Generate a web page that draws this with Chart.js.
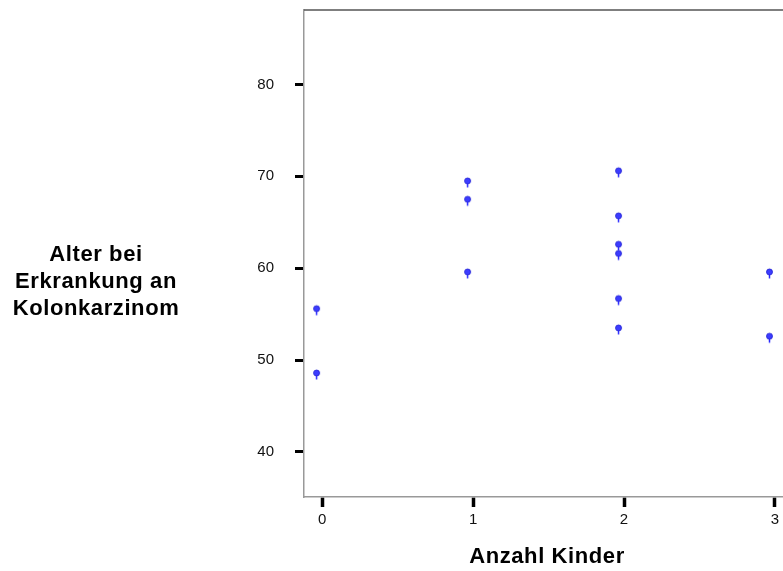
<!DOCTYPE html>
<html>
<head>
<meta charset="utf-8">
<script src="https://cdn.jsdelivr.net/npm/chart.js@4/dist/chart.umd.min.js"></script>
<style>
  body { margin: 0; background: #fff; }
  canvas { display: block; }
</style>
</head>
<body>
<canvas id="myChart" width="783" height="571"></canvas>
<script>
// data
const kinder = [0, 0, 1, 1, 1, 2, 2, 2, 2, 2, 2, 3, 3];
const alter = [55.6, 48.6, 69.5, 67.5, 59.6, 70.6, 65.7, 62.6, 61.6, 56.7, 53.5, 59.6, 52.6];
const xTicks = [0, 1, 2, 3];
const yTicks = [40, 50, 60, 70, 80];
const xTitle = "Anzahl Kinder";
const yTitle = ["Alter bei", "Erkrankung an", "Kolonkarzinom"];

// marker: small blue circle with a stem, drawn a bit left of the point like the original
function makeMarker() {
  let c = document.createElement("canvas");
  c.width = 20;
  c.height = 20;
  let g = c.getContext("2d");
  g.strokeStyle = "rgb(40,40,255)";
  g.lineWidth = 1.5;
  g.beginPath();
  g.moveTo(4.5, 10);
  g.lineTo(4.5, 16.5);
  g.stroke();
  g.fillStyle = "rgb(60,60,255)";
  g.beginPath();
  g.arc(4.5, 10, 3, 0, Math.PI * 2);
  g.fill();
  g.strokeStyle = "rgb(30,30,210)";
  g.lineWidth = 0.8;
  g.stroke();
  return c;
}

// draws the horizontal y title, the x title and the top frame line
const titles = {
  id: "titles",
  afterDraw(chart) {
    const ctx = chart.ctx;
    const area = chart.chartArea;
    ctx.save();
    ctx.strokeStyle = "#555";
    ctx.lineWidth = 1.5;
    ctx.beginPath();
    ctx.moveTo(area.left, area.top);
    ctx.lineTo(area.right, area.top);
    ctx.stroke();

    ctx.fillStyle = "#000";
    ctx.font = "bold 22px 'Liberation Sans', Arial, sans-serif";
    ctx.letterSpacing = "0.6px";
    ctx.textAlign = "center";
    ctx.textBaseline = "alphabetic";
    let base = [261, 288, 315];
    yTitle.forEach((line, i) => ctx.fillText(line, 96, base[i]));
    ctx.fillText(xTitle, 547, 563);
    ctx.restore();
  },
};

const ctx = document.getElementById("myChart").getContext("2d");
const chart = new Chart(ctx, {
  type: "scatter",
  data: {
    datasets: [
      {
        data: kinder.map((k, i) => ({ x: k, y: alter[i] })),
        pointStyle: makeMarker(),
        backgroundColor: "rgb(60,60,255)",
      },
    ],
  },
  options: {
    responsive: false,
    animation: false,
    layout: { autoPadding: false, padding: { top: 10, right: 0, left: 0, bottom: 0 } },
    plugins: { legend: { display: false }, tooltip: { enabled: false } },
    scales: {
      x: {
        type: "linear",
        min: -0.12,
        max: 3.053,
        afterBuildTicks: (s) => { s.ticks = xTicks.map((v) => ({ value: v })); },
        afterFit: (s) => {
          s.height = 74;
          s.paddingLeft = 0;
          s.paddingRight = 0;
        },
        grid: { drawOnChartArea: false, tickLength: 10, tickWidth: 3.5, tickColor: "#000" },
        border: { color: "#999", width: 1.5 },
        ticks: {
          font: { family: "'Liberation Sans', Arial, sans-serif", size: 15 },
          color: "#111",
          padding: 4,
          maxRotation: 0,
        },
      },
      y: {
        min: 35.1,
        max: 88.1,
        afterBuildTicks: (s) => { s.ticks = yTicks.map((v) => ({ value: v })); },
        afterFit: (s) => {
          s.width = 304;
          s.paddingTop = 0;
          s.paddingBottom = 0;
        },
        grid: { drawOnChartArea: false, tickLength: 9, tickWidth: 3, tickColor: "#000" },
        border: { color: "#999", width: 1.5 },
        ticks: {
          font: { family: "'Liberation Sans', Arial, sans-serif", size: 15 },
          color: "#111",
          padding: 21,
        },
      },
    },
  },
  plugins: [titles],
});
</script>
</body>
</html>
